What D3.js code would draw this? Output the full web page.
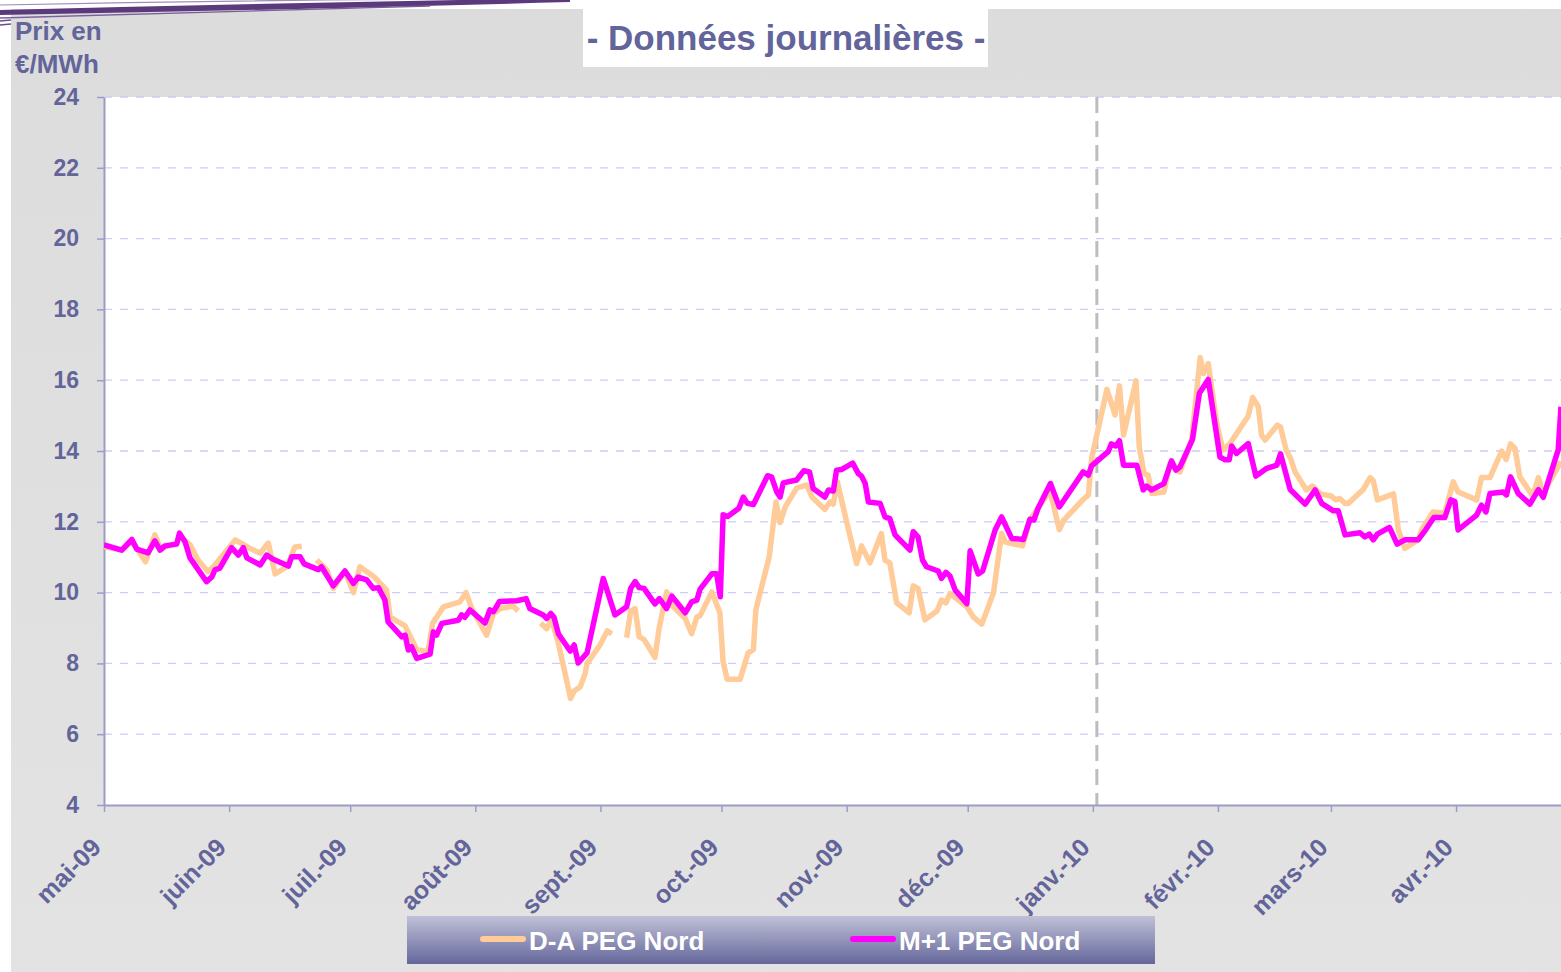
<!DOCTYPE html>
<html>
<head>
<meta charset="utf-8">
<script src="https://cdn.jsdelivr.net/npm/d3@7"></script>
<style>
  body { margin: 0; background: #fff; }
  svg { display: block; font-family: Arial, "Liberation Sans", sans-serif; }
</style>
</head>
<body>
<div id="chart"></div>
<script>
// month tick labels, as printed on the axis
const monthLabels = ["mai-09", "juin-09", "juil.-09", "août-09", "sept.-09", "oct.-09",
    "nov.-09", "déc.-09", "janv.-10", "févr.-10", "mars-10", "avr.-10"];
const yTicks = [4, 6, 8, 10, 12, 14, 16, 18, 20, 22, 24];

// days counted from 1 May 2009, prices in €/MWh
const m1Day = [0, 4.4, 6.9, 8.1, 10.9, 12.6, 13.9, 15.1, 18.0, 18.7, 20.1, 21.3, 25.4, 26.7, 27.5, 28.7,
    31.6, 33.3, 34.5, 35.4, 38.7, 40.3, 41.9, 45.7, 46.5, 48.6, 49.6, 53.1, 53.9, 56.8, 59.7, 61.8,
    63.0, 65.1, 66.7, 68.0, 69.6, 70.4, 73.8, 74.6, 75.4, 76.2, 77.5, 80.8, 81.6, 82.4, 83.7, 87.8,
    88.6, 89.4, 90.7, 94.4, 95.6, 96.5, 98.0, 102.3, 104.6, 105.5, 108.8, 109.7, 110.7, 111.5, 112.6,
    115.5, 116.5, 117.5, 119.7, 123.7, 126.6, 129.5, 130.5, 131.6, 132.6, 133.8, 136.5, 137.6, 139.4,
    140.7, 144.0, 145.6, 146.9, 147.7, 150.6, 151.8, 152.7, 153.4, 154.5, 157.3, 158.4, 159.4, 160.9,
    164.4, 165.4, 166.7, 167.5, 168.3, 171.6, 173.4, 174.8, 175.7, 178.6, 179.5, 180.7, 181.5, 182.8,
    185.5, 186.9, 187.7, 188.6, 189.4, 192.3, 193.5, 194.7, 196.0, 197.2, 199.7, 200.5, 201.7, 202.8,
    203.8, 206.7, 207.5, 208.6, 209.6, 210.9, 213.8, 214.6, 216.6, 217.7, 220.8, 222.4, 224.9, 227.8,
    229.4, 230.4, 231.5, 234.5, 236.7, 242.6, 243.9, 244.7, 248.8, 249.6, 250.7, 251.6, 252.6, 255.9,
    257.5, 258.3, 259.6, 262.6, 264.5, 265.6, 266.6, 269.7, 271.4, 273.6, 276.5, 277.8, 278.8, 279.4,
    280.6, 283.5, 285.4, 288.1, 290.6, 291.5, 293.9, 297.6, 300.1, 301.7, 304.6, 305.8, 307.5, 311.2,
    312.4, 313.5, 314.5, 315.5, 318.5, 320.4, 322.3, 325.6, 327.5, 329.5, 332.2, 333.7, 334.7, 335.5,
    340.1, 341.3, 342.4, 343.4, 346.7, 347.5, 348.5, 350.4, 353.3, 355.4, 356.6, 360.3, 361.0];
const m1Price = [11.35, 11.2, 11.5, 11.23, 11.12, 11.46, 11.2, 11.32, 11.37, 11.68, 11.43, 10.98, 10.31, 10.44, 10.64, 10.69,
    11.27, 11.06, 11.27, 10.98, 10.78, 11.06, 10.94, 10.75, 11.01, 11.01, 10.81, 10.65, 10.73, 10.19, 10.61, 10.26,
    10.44, 10.36, 10.12, 10.14, 9.79, 9.17, 8.75, 8.8, 8.38, 8.47, 8.14, 8.26, 8.89, 8.8, 9.13, 9.22,
    9.37, 9.3, 9.51, 9.14, 9.51, 9.46, 9.75, 9.77, 9.83, 9.55, 9.37, 9.27, 9.41, 9.3, 8.83,
    8.35, 8.52, 8.01, 8.3, 10.4, 9.37, 9.6, 10.12, 10.31, 10.14, 10.12, 9.68, 9.83, 9.55,
    9.9, 9.43, 9.74, 9.79, 10.1, 10.53, 10.53, 9.88, 12.2, 12.15, 12.38, 12.7, 12.52, 12.49,
    13.3, 13.27, 12.84, 12.7, 13.1, 13.18, 13.44, 13.41, 12.94, 12.7, 12.9, 12.87, 13.46, 13.48,
    13.66, 13.36, 13.29, 13.08, 12.56, 12.52, 12.14, 12.09, 11.63, 11.49, 11.2, 11.72, 11.57, 10.92,
    10.73, 10.61, 10.4, 10.57, 10.47, 10.07, 9.69, 11.18, 10.53, 10.61, 11.77, 12.14, 11.53, 11.5,
    12.07, 12.05, 12.4, 13.08, 12.42, 13.41, 13.32, 13.58, 13.98, 14.2, 14.14, 14.29, 13.6, 13.6,
    12.9, 13.01, 12.9, 13.08, 13.72, 13.46, 13.55, 14.33, 15.63, 16.02, 13.83, 13.75, 13.75, 14.14,
    13.93, 14.21, 13.29, 13.51, 13.6, 13.92, 12.91, 12.5, 12.9, 12.52, 12.31, 12.31, 11.63, 11.69,
    11.57, 11.65, 11.49, 11.65, 11.84, 11.37, 11.49, 11.49, 11.78, 12.12, 12.12, 12.62, 12.57, 11.77,
    12.19, 12.47, 12.28, 12.8, 12.84, 12.76, 13.27, 12.8, 12.5, 12.91, 12.69, 14.03, 15.25];

// day-ahead series; null marks a break in the line
const daDay = [0, 4.4, 6.9, 8.1, 10.3, 12.6, 14.0, 18.0, 18.7, 21.4, 23.3, 25.8, 27.5, 32.5, 36.2, 38.7,
    40.7, 42.4, 45.3, 47.3, 49.0, 50.5, 52.7, 55.2, 56.8, 59.7, 61.8, 63.4, 67.1, 70.0, 70.9, 74.6,
    77.5, 80.3, 81.4, 84.1, 88.2, 89.7, 91.1, 94.8, 96.5, 98.1, 101.4, 102.6, 104.0, 108.2, 109.7, 110.9,
    112.6, 115.6, 116.5, 118.0, 119.2, 119.7, 122.9, 124.7, 125.8, 127.0, 129.5, 130.5, 131.6, 132.6,
    133.8, 136.5, 137.6, 139.4, 140.9, 144.0, 145.6, 146.9, 147.7, 150.6, 152.6, 153.4, 154.4, 157.6,
    159.6, 160.9, 161.5, 164.8, 166.5, 167.5, 168.8, 171.6, 174.1, 175.4, 178.6, 179.9, 180.7, 181.7,
    184.0, 186.5, 187.7, 189.8, 192.6, 193.5, 194.7, 196.4, 199.5, 200.5, 201.7, 203.4, 206.4, 207.5,
    208.6, 209.6, 213.8, 215.4, 217.5, 220.4, 222.4, 223.3, 227.6, 229.4, 231.9, 234.4, 236.7, 237.8,
    242.6, 243.9, 244.7, 248.5, 250.5, 251.6, 252.6, 255.7, 256.5, 257.7, 258.7, 259.6, 262.6, 264.1,
    265.6, 266.6, 269.5, 271.6, 272.4, 273.6, 275.7, 277.2, 279.0, 283.5, 284.6, 286.0, 286.8, 287.7,
    290.7, 291.5, 292.9, 294.0, 295.1, 297.9, 299.4, 301.3, 304.1, 305.2, 306.2, 307.5, 308.3, 312.0,
    313.7, 314.5, 315.5, 319.5, 320.7, 322.3, 325.6, 326.5, 329.3, 332.2, 334.3, 335.5, 340.1, 341.3,
    343.4, 346.3, 347.4, 348.5, 349.6, 350.8, 354.0, 355.4, 356.5, 361.0];
const daPrice = [11.3, 11.2, 11.45, 11.25, 10.87, 11.63, 11.25, 11.4, 11.6, 11.34, 10.92, 10.59, 10.78, 11.49, 11.25, 11.11,
    11.4, 10.53, 10.73, 11.29, 11.31, null, 10.92, 10.64, 10.12, 10.6, 10.0, 10.73, 10.43, 10.07, 9.31, 9.06,
    8.39, 8.33, 9.13, 9.6, 9.74, 10.0, 9.56, 8.8, 9.41, 9.55, 9.62, 9.48, null, 9.14, 8.98, 9.23,
    8.56, 7.01, 7.22, 7.34, 7.71, 8.0, 8.52, 8.92, 8.83, null, 8.73, 9.48, 9.55, 8.75,
    8.68, 8.17, 9.03, 10.02, 9.62, 9.27, 8.84, 9.31, 9.35, 10.02, 9.43, 8.04, 7.55, 7.55,
    8.3, 8.39, 9.51, 11.0, 12.56, 11.98, 12.42, 12.95, 13.04, 12.7, 12.35, 12.56, 12.5, 13.13,
    12.0, 10.82, 11.32, 10.84, 11.67, 10.92, 10.84, 9.71, 9.43, 10.19, 10.12, 9.23, 9.48, 9.79,
    9.71, 9.97, 9.6, 9.31, 9.11, 10.0, 11.67, 11.43, 11.32, 12.05, 12.47, 12.87, 11.78, 12.05,
    12.63, 12.76, 13.79, 15.74, 15.02, 15.84, 14.45, 15.98, 14.12, 13.36, 13.32, 12.8, 12.84, 13.65,
    13.46, 13.41, 14.33, 16.64, 16.19, 16.47, 14.78, 14.03, 14.21, 14.99, 15.51, 15.25, 14.45, 14.31,
    14.73, 14.68, 14.03, 13.79, 13.41, 12.9, 13.01, 12.79, 12.73, 12.62, 12.66, 12.52, 12.52, 12.91,
    13.25, 13.16, 12.62, 12.79, 11.77, 11.25, 11.49, 11.78, 12.28, 12.24, 13.13, 12.84, 12.62, 13.25,
    13.25, 14.0, 13.76, 14.2, 14.07, 13.27, 12.73, 13.25, 12.8, 13.7];

// dashed marker for the start of the new year
const yearMarkDay = 246;

const W = 1561, H = 972;
const margin = {top: 97, right: 0, bottom: 167, left: 104};
const start = new Date(2009, 4, 1);
const toDate = (d) => new Date(start.getTime() + d * 864e5);
const endDay = 361;

const textColor = "#62649a";

const svg = d3.select("#chart").append("svg")
    .attr("width", W)
    .attr("height", H);

const defs = svg.append("defs");
const legendGrad = defs.append("linearGradient")
    .attr("id", "legendGrad")
    .attr("x1", 0).attr("y1", 0).attr("x2", 0).attr("y2", 1);
legendGrad.append("stop").attr("offset", "0%").attr("stop-color", "#c0c1d7");
legendGrad.append("stop").attr("offset", "100%").attr("stop-color", "#65679b");

const panelGrad = defs.append("linearGradient")
    .attr("id", "panelGrad")
    .attr("x1", 0).attr("y1", 0).attr("x2", 0).attr("y2", 1);
panelGrad.append("stop").attr("offset", "0%").attr("stop-color", "#dcdcdc");
panelGrad.append("stop").attr("offset", "100%").attr("stop-color", "#e3e3e3");

defs.append("clipPath").attr("id", "plotClip")
    .append("rect")
    .attr("x", margin.left).attr("y", margin.top - 5)
    .attr("width", W - margin.left - margin.right)
    .attr("height", H - margin.bottom - margin.top + 5);

// grey slide panel
svg.append("rect")
    .attr("x", 11).attr("y", 9)
    .attr("width", W - 11).attr("height", H - 9)
    .attr("fill", "url(#panelGrad)");

// decorative swoosh in the top-left corner
const deco = svg.append("g");
deco.append("path")
    .attr("d", "M0,10 Q280,3 570,-2 L570,2 Q280,10 0,15 Z")
    .attr("fill", "#5a3a7c");
deco.append("path")
    .attr("d", "M0,5 Q240,0 480,-1")
    .attr("fill", "none").attr("stroke", "#a08cb8").attr("stroke-width", 1.2);
deco.append("path")
    .attr("d", "M0,18 Q200,12 430,6")
    .attr("fill", "none").attr("stroke", "#7b5f9b").attr("stroke-width", 1.3);
deco.append("path").attr("d", "M0,21 L11,20 M0,25 L11,24")
    .attr("stroke", "#6a4d8c").attr("stroke-width", 1.4);

// plot area
const x = d3.scaleTime()
    .domain([start, toDate(endDay)])
    .range([margin.left, W - margin.right]);
const y = d3.scaleLinear()
    .domain([4, 24])
    .range([H - margin.bottom, margin.top]);

svg.append("rect")
    .attr("x", margin.left).attr("y", margin.top)
    .attr("width", W - margin.left - margin.right)
    .attr("height", y(4) - y(24))
    .attr("fill", "#fff");

// title box
svg.append("rect")
    .attr("x", 583).attr("y", 9)
    .attr("width", 405).attr("height", 58)
    .attr("fill", "#fff");
svg.append("text")
    .attr("x", 786).attr("y", 50)
    .attr("text-anchor", "middle")
    .attr("fill", textColor)
    .attr("font-size", 35)
    .attr("font-weight", "bold")
    .text("- Données journalières -");

// unit label
svg.append("text")
    .attr("x", 15).attr("y", 40)
    .attr("fill", textColor)
    .attr("font-size", 26)
    .attr("font-weight", "bold")
    .text("Prix en");
svg.append("text")
    .attr("x", 15).attr("y", 73)
    .attr("fill", textColor)
    .attr("font-size", 26)
    .attr("font-weight", "bold")
    .text("€/MWh");

// horizontal dashed grid
svg.append("g")
    .selectAll("line")
    .data(yTicks.filter((v) => v > 4))
    .join("line")
        .attr("x1", margin.left)
        .attr("x2", W - margin.right)
        .attr("y1", (d) => y(d))
        .attr("y2", (d) => y(d))
        .attr("stroke", "#cdcdf5")
        .attr("stroke-width", 1.3)
        .attr("stroke-dasharray", "8,8");

// year separator
svg.append("line")
    .attr("x1", x(toDate(yearMarkDay)))
    .attr("x2", x(toDate(yearMarkDay)))
    .attr("y1", y(24))
    .attr("y2", y(4))
    .attr("stroke", "#bdbdbd")
    .attr("stroke-width", 3)
    .attr("stroke-dasharray", "16,8");

// axes
const months = d3.timeMonth.range(start, toDate(endDay));
const xAxis = svg.append("g")
    .attr("transform", `translate(0,${y(4)})`)
    .call(d3.axisBottom(x)
        .tickValues(months)
        .tickSize(7)
        .tickSizeOuter(0)
        .tickFormat((d, i) => monthLabels[i]));
xAxis.select(".domain").attr("stroke", "#9c9cc6").attr("stroke-width", 2);
xAxis.selectAll(".tick line").attr("stroke", "#9c9cc6").attr("stroke-width", 1.5);
xAxis.selectAll(".tick text")
    .attr("fill", textColor)
    .attr("font-size", 25)
    .attr("font-weight", "bold")
    .attr("font-family", "Arial, 'Liberation Sans', sans-serif")
    .attr("text-anchor", "end")
    .attr("dy", null)
    .attr("y", null)
    .attr("transform", "translate(-2,44) rotate(-45)");

const yAxis = svg.append("g")
    .attr("transform", `translate(${margin.left},0)`)
    .call(d3.axisLeft(y)
        .tickValues(yTicks)
        .tickSize(7)
        .tickSizeOuter(0)
        .tickPadding(18));
yAxis.select(".domain").attr("stroke", "#9c9cc6").attr("stroke-width", 2);
yAxis.selectAll(".tick line").attr("stroke", "#9c9cc6").attr("stroke-width", 1.5);
yAxis.selectAll(".tick text")
    .attr("fill", textColor)
    .attr("font-size", 23)
    .attr("font-weight", "bold")
    .attr("font-family", "Arial, 'Liberation Sans', sans-serif");

// series
const line = d3.line()
    .defined((d) => d[1] != null)
    .x((d) => x(toDate(d[0])))
    .y((d) => y(d[1]));

const daData = d3.zip(daDay, daPrice);
const m1Data = d3.zip(m1Day, m1Price);

const plot = svg.append("g").attr("clip-path", "url(#plotClip)");
plot.append("path")
    .datum(daData)
    .attr("fill", "none")
    .attr("stroke", "#ffcb98")
    .attr("stroke-width", 5.5)
    .attr("stroke-linejoin", "round")
    .attr("d", line);
plot.append("path")
    .datum(m1Data)
    .attr("fill", "none")
    .attr("stroke", "#ff00ff")
    .attr("stroke-width", 5.5)
    .attr("stroke-linejoin", "round")
    .attr("d", line);

// legend
const legend = svg.append("g");
legend.append("rect")
    .attr("x", 407).attr("y", 916)
    .attr("width", 748).attr("height", 48)
    .attr("fill", "url(#legendGrad)");
const legendItems = [
    {label: "D-A PEG Nord", color: "#ffcb98", x0: 483},
    {label: "M+1 PEG Nord", color: "#ff00ff", x0: 853}
];
legend.selectAll("line")
    .data(legendItems)
    .join("line")
        .attr("x1", (d) => d.x0)
        .attr("x2", (d) => d.x0 + 40)
        .attr("y1", 939).attr("y2", 939)
        .attr("stroke", (d) => d.color)
        .attr("stroke-width", 6)
        .attr("stroke-linecap", "round");
legend.selectAll("text")
    .data(legendItems)
    .join("text")
        .attr("x", (d) => d.x0 + 46)
        .attr("y", 950)
        .attr("fill", "#fff")
        .attr("font-size", 26)
        .attr("font-weight", "bold")
        .text((d) => d.label);
</script>
</body>
</html>
